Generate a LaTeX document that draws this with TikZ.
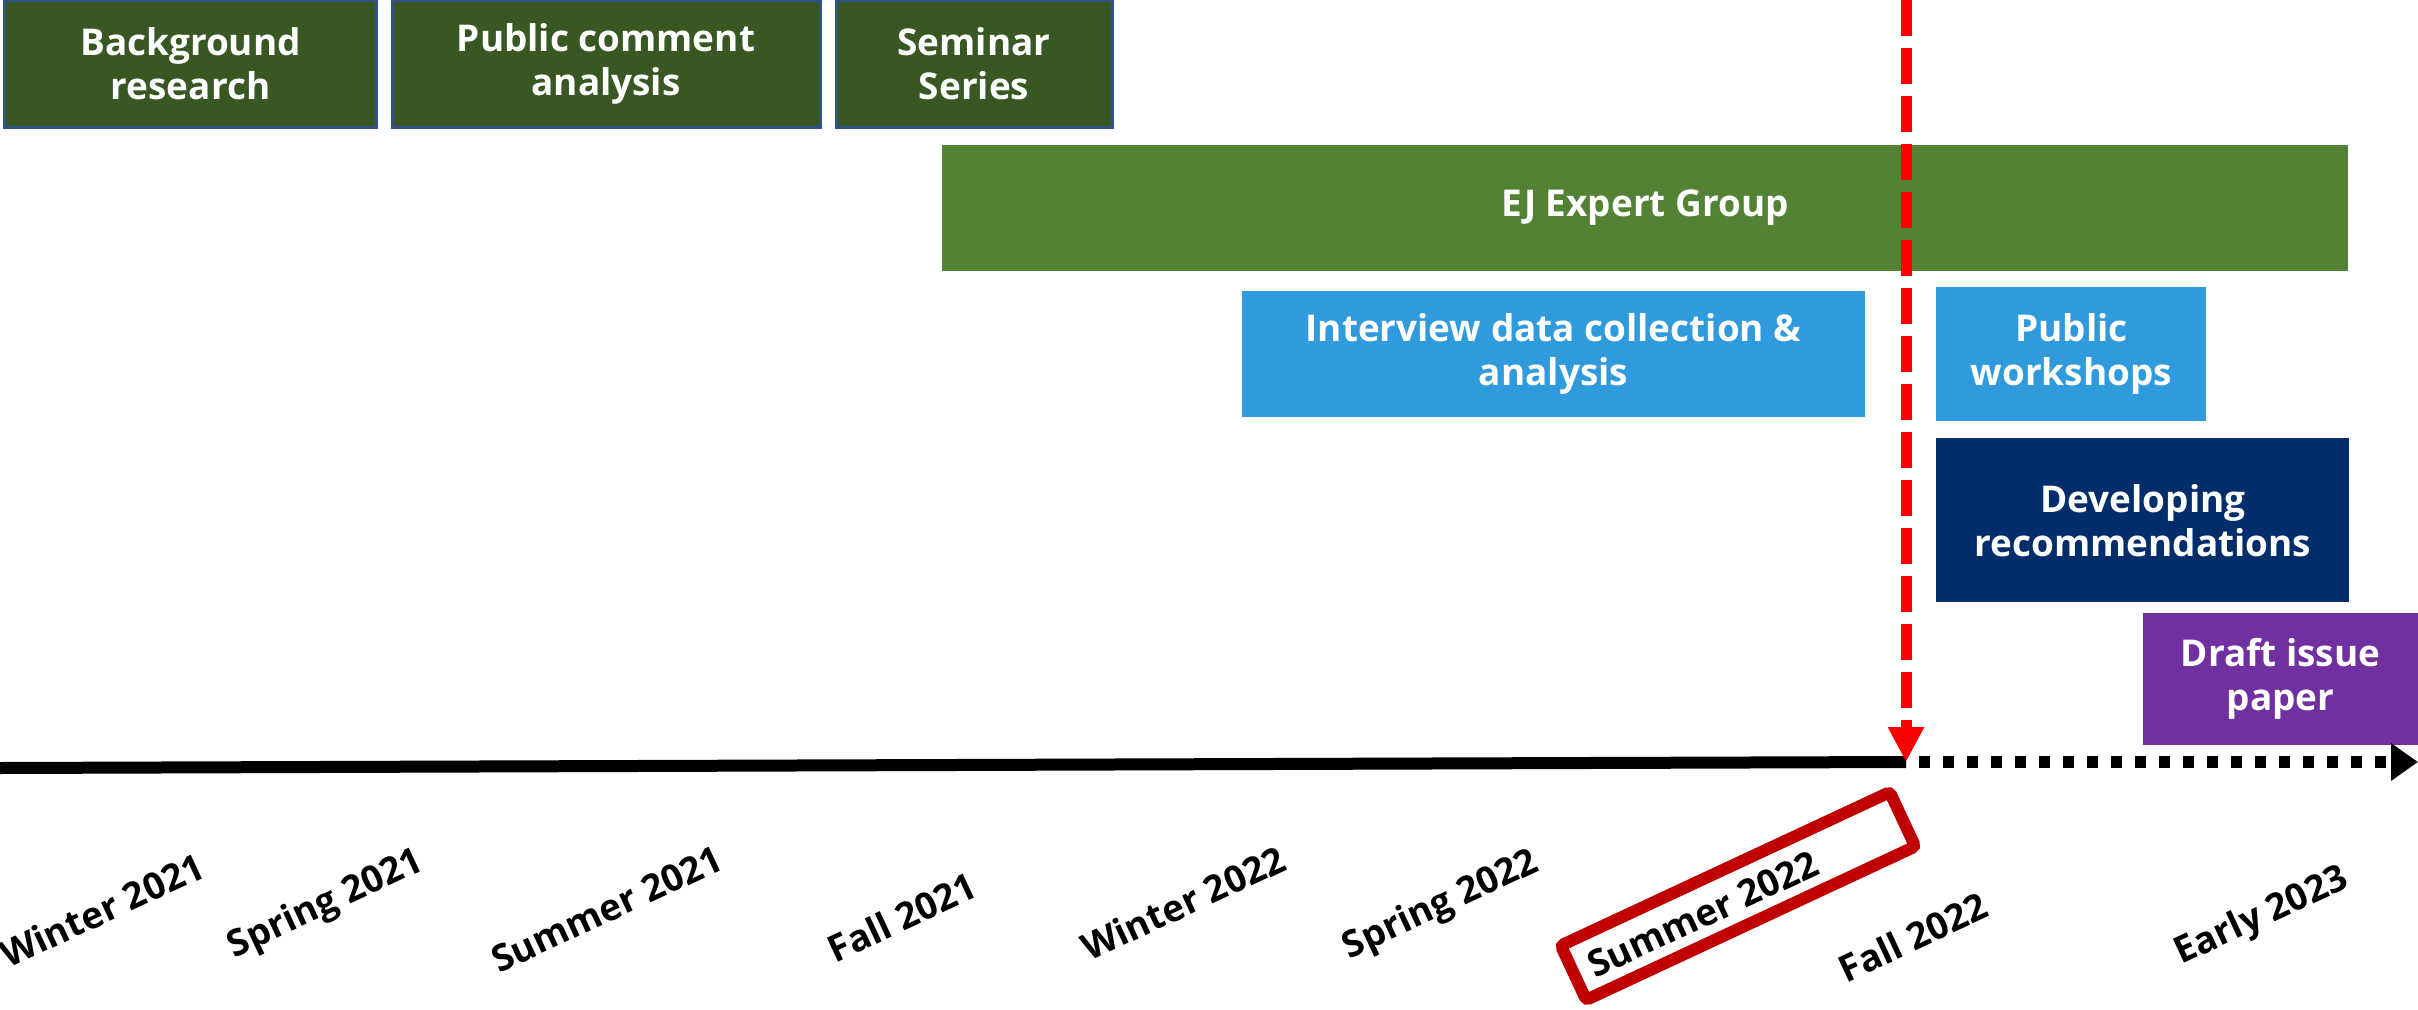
\documentclass[tikz,border=0pt]{standalone}
\usepackage{fontspec}
\setmainfont{Open Sans}
\usepackage{tikz}
\usetikzlibrary{positioning, arrows.meta}
\definecolor{darkgreen}{HTML}{385723}
\definecolor{midgreen}{HTML}{548235}
\definecolor{lightblue}{HTML}{2F9BDC}
\definecolor{navyblue}{HTML}{022D6B}
\definecolor{purp}{HTML}{7030A0}
\definecolor{boxline}{HTML}{2F528F}
\definecolor{darkred}{HTML}{C00000}

\begin{document}
\begin{tikzpicture}[font=\bfseries\fontsize{10.5}{12.6}\selectfont,
		task/.style={rectangle, text=white, align=center, inner sep=0pt},
		early/.style={task, fill=darkgreen, draw=boxline, line width=0.03cm, minimum height=1.27cm},
		season/.style={rotate=25, inner sep=0pt},
		hlbox/.style={draw=darkred, line width=0.12cm, rounded corners=1pt, inner sep=0pt}]
	\useasboundingbox (0,0) rectangle (24.18,10.09);
	
	% top row
	\node[early, minimum width=3.71cm] (bg) at (1.905,9.45) {Background\\research};
	\node[early, minimum width=4.28cm] (pca) [right=0.13cm of bg] {Public comment\\analysis};
	\node[early, minimum width=2.76cm] (sem) [right=0.13cm of pca] {Seminar\\Series};
	
	\node[task, fill=midgreen, minimum width=14.06cm, minimum height=1.26cm] (ej) at (16.45,8.01) {EJ Expert Group};
	\node[task, fill=lightblue, minimum width=6.23cm, minimum height=1.26cm] (intv) at (15.535,6.55) {Interview data collection \&\\analysis};
	\node[task, fill=lightblue, minimum width=2.70cm, minimum height=1.34cm] (pw) [right=0.70cm of intv] {Public\\workshops};
	\node[task, fill=navyblue, minimum width=4.13cm, minimum height=1.64cm] (dev) [below=0.16cm of pw.south west, anchor=north west] {Developing\\recommendations};
	\node[task, fill=purp, minimum width=2.75cm, minimum height=1.32cm] (draft) at (22.805,3.30) {Draft issue\\paper};
	
	% timeline
	\coordinate (t0) at (0,2.41);
	\coordinate (now) at (19.06,2.47);
	\coordinate (t1) at (24.18,2.47);
	\coordinate (top) at (19.06,10.09);
	\draw[line width=0.12cm] (t0) -- (now);
	\draw[line width=0.12cm, dash pattern=on 0.11cm off 0.13cm, dash phase=0.11cm, -{Triangle[length=0.27cm, width=0.36cm]}] (now) -- (t1);
	\draw[red, line width=0.11cm, dash pattern=on 0.36cm off 0.12cm, -{Triangle[length=0.35cm, width=0.34cm]}] (top) -- (now);
	
	% seasons
	\node[season] (w21) at (1.02,0.99) {Winter 2021};
	\node[season] (sp21) at (3.26,1.04) {Spring 2021};
	\node[season] (su21) at (6.07,1.00) {Summer 2021};
	\node[season] (f21) at (9.02,0.92) {Fall 2021};
	\node[season] (w22) at (11.83,1.06) {Winter 2022};
	\node[season] (sp22) at (14.41,1.03) {Spring 2022};
	\node[season] (su22) at (17.03,0.95) {Summer 2022};
	\node[season] (f22) at (19.13,0.72) {Fall 2022};
	\node[season] (e23) at (22.62,0.92) {Early 2023};
	\node[hlbox, rotate=25, minimum width=3.63cm, minimum height=0.60cm] (hl) at (17.38,1.13) {};
\end{tikzpicture}
\end{document}
